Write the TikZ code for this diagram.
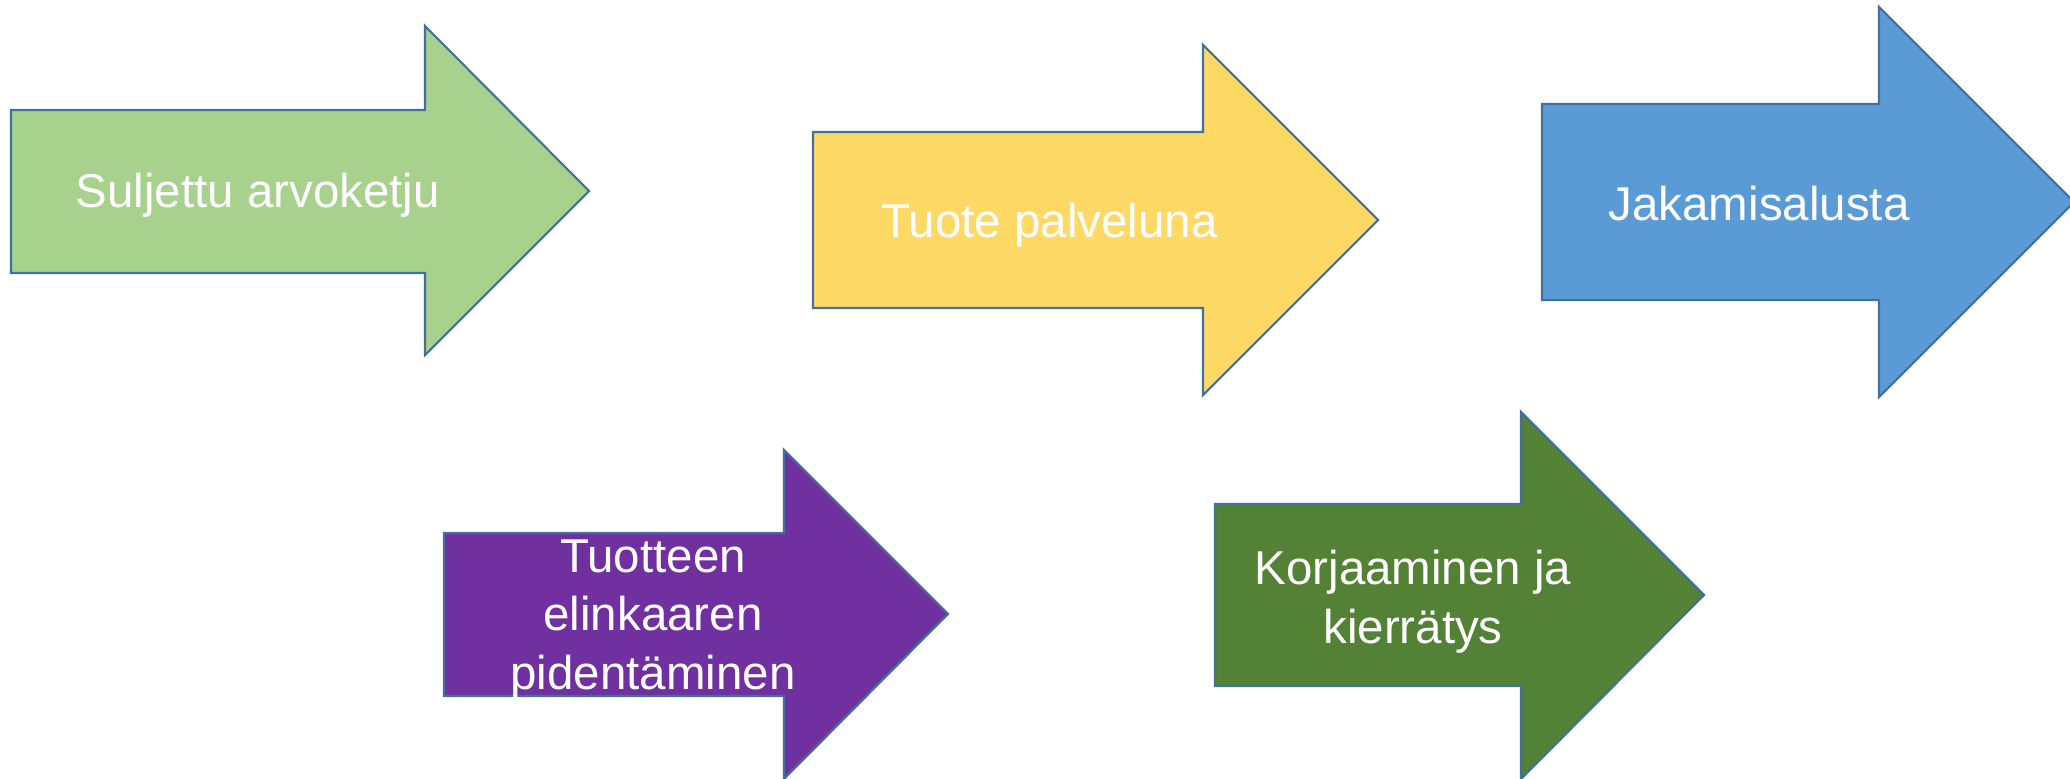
\documentclass[tikz,border=0pt]{standalone}
\usepackage{fontspec}
\setmainfont{Liberation Sans}

\definecolor{leafgreen}{HTML}{A9D18E}
\definecolor{sunyellow}{HTML}{FFD966}
\definecolor{skyblue}{HTML}{5B9BD5}
\definecolor{plum}{HTML}{7030A0}
\definecolor{mossgreen}{HTML}{538135}
\definecolor{arrowline}{HTML}{41719C}

\begin{document}
\begin{tikzpicture}[
    x=0.01cm, y=-0.01cm,
    blockarrow/.style={draw=arrowline, line width=0.6pt, line join=miter},
    label/.style={text=white, font=\fontsize{13.5}{16.5}\selectfont, inner sep=0pt, align=center}
]
    \useasboundingbox (0, 0) rectangle (2070, 779);

    % Top row
    \filldraw[blockarrow, fill=leafgreen] (11, 110) -- (425, 110) -- (425, 26) -- (589, 191)
        -- (425, 355) -- (425, 273) -- (11, 273) -- cycle;
    \filldraw[blockarrow, fill=sunyellow] (813, 132) -- (1203, 132) -- (1203, 45) -- (1378, 220)
        -- (1203, 395) -- (1203, 308) -- (813, 308) -- cycle;
    \filldraw[blockarrow, fill=skyblue] (1542, 104) -- (1879, 104) -- (1879, 7) -- (2074, 202)
        -- (1879, 397) -- (1879, 300) -- (1542, 300) -- cycle;

    % Bottom row
    \filldraw[blockarrow, fill=plum] (444, 533) -- (784, 533) -- (784, 450) -- (948, 614)
        -- (784, 779) -- (784, 696) -- (444, 696) -- cycle;
    \filldraw[blockarrow, fill=mossgreen] (1215, 504) -- (1521, 504) -- (1521, 412) -- (1704, 595)
        -- (1521, 779) -- (1521, 686) -- (1215, 686) -- cycle;

    % Labels
    \node[label, anchor=base west] (closed) at (75, 208) {Suljettu arvoketju};
    \node[label, anchor=base west] (service) at (881, 238) {Tuote palveluna};
    \node[label, anchor=base west] (sharing) at (1608, 220) {Jakamisalusta};
    \node[label, anchor=base] (lifespan) at (653, 689) {Tuotteen\\elinkaaren\\pidentäminen};
    \node[label, anchor=base] (repair) at (1413, 643) {Korjaaminen ja\\kierrätys};
\end{tikzpicture}
\end{document}
